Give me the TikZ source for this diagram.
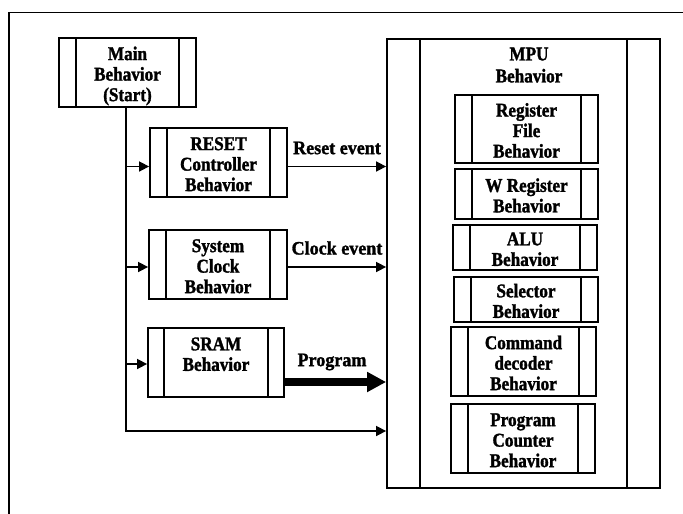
\documentclass[tikz,border=0pt]{standalone}
\usepackage{fontspec}
\setmainfont{Liberation Serif}
\newfontfamily\boxfont{Liberation Serif}[FakeStretch=0.88,FakeBold=1.5]
\newfontfamily\lblfont{Liberation Serif}[FakeStretch=0.95,FakeBold=1.5]
\usetikzlibrary{arrows.meta}

% centred stack of lines, set a little below the box centre
\newcommand\btxt[1]{\raisebox{-4pt}[\height][\depth]{\begin{tabular}{@{}c@{}}#1\end{tabular}}}

\tikzset{
  strip/.store in=\stripw, strip=17pt,
  boxtext/.style={font=\boxfont\bfseries\fontsize{19.5pt}{20.5pt}\selectfont},
  behbox/.style={draw, line width=1.8pt, rectangle, inner sep=0pt, boxtext,
    path picture={
      \draw[line width=1.8pt]
        ([xshift=\stripw]path picture bounding box.north west) --
        ([xshift=\stripw]path picture bounding box.south west)
        ([xshift=-\stripw]path picture bounding box.north east) --
        ([xshift=-\stripw]path picture bounding box.south east);
    }},
  lbl/.style={font=\lblfont\bfseries\fontsize{19pt}{20pt}\selectfont, inner sep=0pt},
  conn/.style={line width=1.6pt, -{Triangle[length=10pt,width=10pt]}},
  bigconn/.style={line width=8pt, -{Triangle[length=19pt,width=19pt]}},
}

\begin{document}
\begin{tikzpicture}[x=1pt,y=-1pt]
\useasboundingbox (0,0) rectangle (683,514);

% page frame (top and left edges)
\draw[line width=1.6pt] (683,12.5) -- (9,12.5) -- (9,514);

% behaviours on the left
\node[behbox, minimum width=137pt, minimum height=69pt] (main) at (127.5,72.5) {\btxt{Main\\Behavior\\(Start)}};
\node[behbox, minimum width=137pt, minimum height=69pt] (reset) at (218.5,162.5) {\btxt{RESET\\Controller\\Behavior}};
\node[behbox, minimum width=138pt, minimum height=69pt] (clock) at (218,264.5) {\btxt{System\\Clock\\Behavior}};
\node[behbox, minimum width=136pt, minimum height=69pt, strip=16pt] (sram) at (216,362.5) {};
\node[boxtext, inner sep=0pt] (sramtext) at (216,352.5) {\btxt{SRAM\\Behavior}};

% MPU and its sub-behaviours
\node[behbox, minimum width=273pt, minimum height=449pt, strip=33pt] (mpu) at (523.5,263.5) {};
\node[font=\boxfont\bfseries\fontsize{19.5pt}{22pt}\selectfont, inner sep=0pt] (mputitle) at (529,63) {\btxt{MPU\\Behavior}};
\node[behbox, minimum width=143pt, minimum height=68pt] (regfile) at (526.5,129) {\btxt{Register\\File\\Behavior}};
\node[behbox, minimum width=143pt, minimum height=50pt] (wreg) at (526.5,194) {\btxt{W Register\\Behavior}};
\node[behbox, minimum width=144pt, minimum height=45pt] (alu) at (525,247.5) {\btxt{ALU\\Behavior}};
\node[behbox, minimum width=144pt, minimum height=45pt] (sel) at (526,299.5) {\btxt{Selector\\Behavior}};
\node[behbox, minimum width=145pt, minimum height=69pt] (cmd) at (523.5,361.5) {\btxt{Command\\decoder\\Behavior}};
\node[behbox, minimum width=144pt, minimum height=69pt] (pc) at (523,438.5) {\btxt{Program\\Counter\\Behavior}};

% control trunk from the main behaviour
\coordinate (corner) at (126,431);
\draw[conn] (main.south -| corner) -- (corner) -- (corner -| mpu.west);
\draw[conn] ([yshift=-4pt]reset.west -| corner) -- ([yshift=-4pt]reset.west);
\draw[conn] ([yshift=-2.5pt]clock.west -| corner) -- ([yshift=-2.5pt]clock.west);
\draw[conn] ([yshift=-1.5pt]sram.west -| corner) -- ([yshift=-1.5pt]sram.west);

% events and program flow into the MPU
\draw[conn] ([yshift=-4pt]reset.east) -- ([yshift=-4pt]reset.east -| mpu.west);
\draw[conn] ([yshift=-2.5pt]clock.east) -- ([yshift=-2.5pt]clock.east -| mpu.west);
\draw[bigconn] ([yshift=-19.5pt]sram.east) -- ([yshift=-19.5pt]sram.east -| mpu.west);

\node[lbl] (resetlbl) at (337,148) {Reset event};
\node[lbl] (clocklbl) at (337,248) {Clock event};
\node[lbl] (proglbl) at (332,362) {Program};
\end{tikzpicture}
\end{document}
